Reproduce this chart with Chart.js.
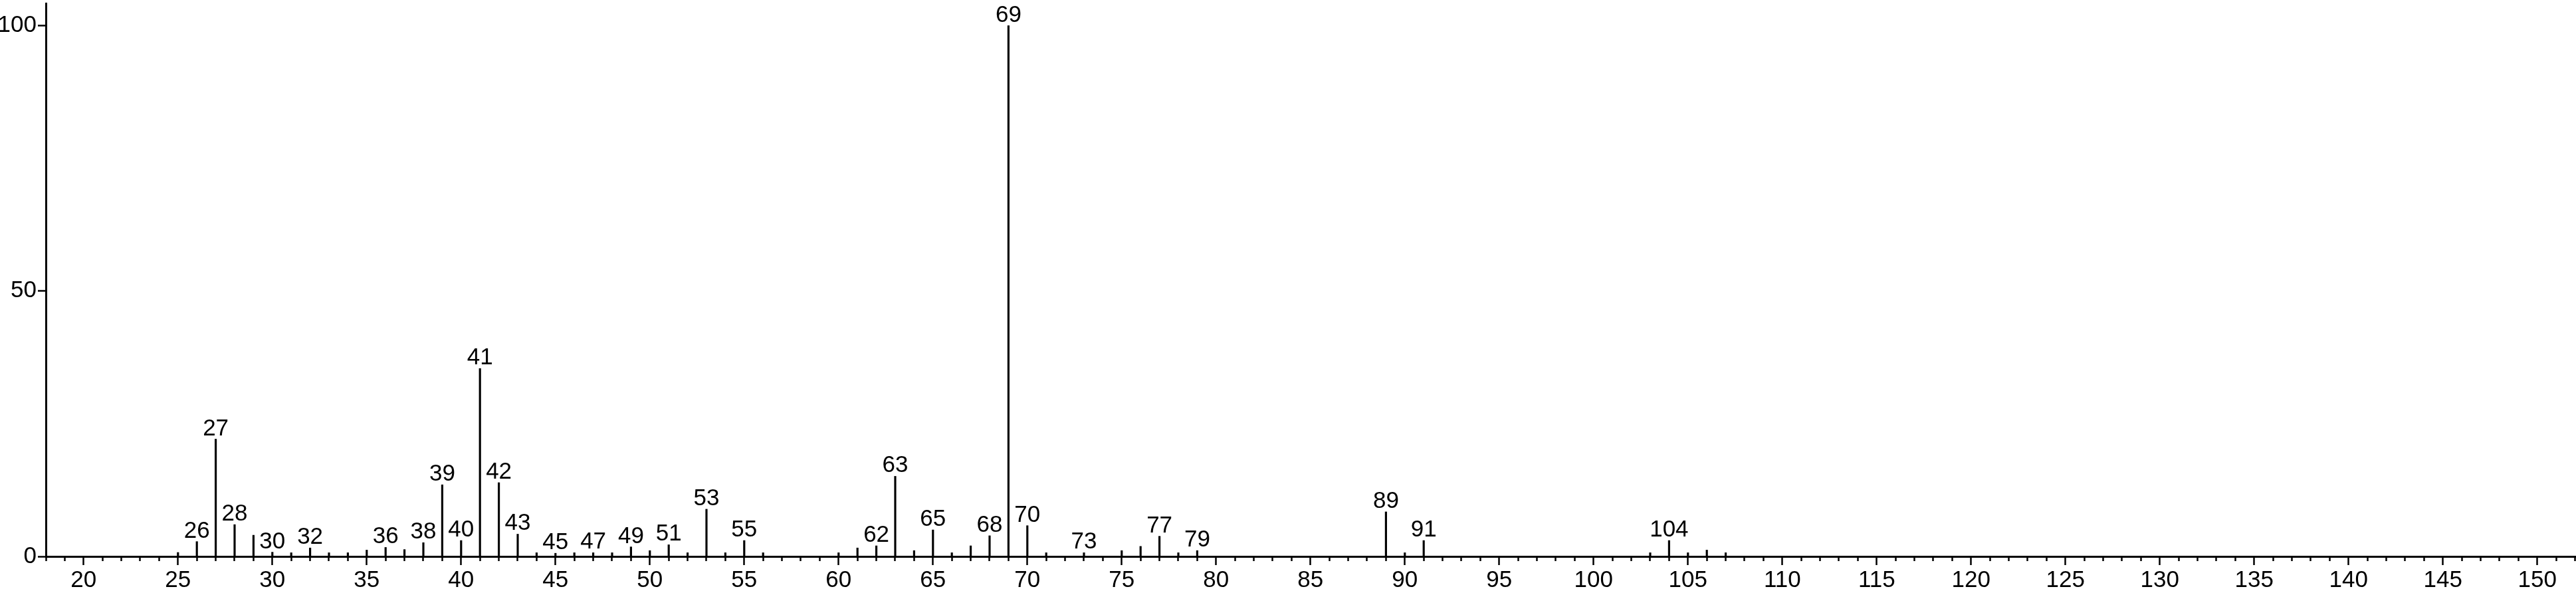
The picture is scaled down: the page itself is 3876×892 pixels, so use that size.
<!DOCTYPE html>
<html>
<head>
<meta charset="utf-8">
<script src="https://cdn.jsdelivr.net/npm/chart.js@4/dist/chart.umd.min.js"></script>
<style>
    html, body { margin: 0; padding: 0; background: #fff; }
    #wrap { width: 3876px; height: 892px; }
</style>
</head>
<body>
<div id="wrap"><canvas id="spectrum"></canvas></div>
<script>
// m/z and relative abundance
const mz = [25, 26, 27, 28, 29, 30, 31, 32, 33, 34, 35, 36, 37, 38, 39, 40, 41, 42, 43, 44,
    45, 46, 47, 48, 49, 50, 51, 52, 53, 54, 55, 56, 60, 61, 62, 63, 64, 65, 66, 67,
    68, 69, 70, 71, 73, 75, 76, 77, 78, 79, 89, 90, 91, 103, 104, 105, 106, 107];
const abundance = [0.75, 2.8, 22.1, 6.0, 4.0, 0.8, 0.7, 1.6, 0.7, 0.7, 1.2, 1.7, 1.3, 2.6, 13.5, 3.0, 35.4, 13.9, 4.2, 0.7,
    0.6, 0.7, 0.7, 0.7, 1.8, 1.1, 2.2, 0.7, 8.9, 0.7, 3.0, 0.7, 0.7, 1.6, 2.0, 15.1, 1.1, 5.0, 0.7, 2.0,
    3.9, 100, 5.8, 0.7, 0.7, 1.1, 1.9, 3.8, 0.7, 1.1, 8.4, 0.7, 3.0, 0.7, 3.0, 0.7, 1.2, 0.7];
const labeledPeaks = [26, 27, 28, 30, 32, 36, 38, 39, 40, 41, 42, 43, 45, 47, 49, 51, 53, 55,
    62, 63, 65, 68, 69, 70, 73, 77, 79, 89, 91, 104];
const xTickLabels = [20, 25, 30, 35, 40, 45, 50, 55, 60, 65, 70, 75, 80, 85, 90, 95, 100,
    105, 110, 115, 120, 125, 130, 135, 140, 145, 150];
const yTickLabels = [0, 50, 100];

const FONT = "'Liberation Sans', Arial, Helvetica, sans-serif";
const FONT_SIZE = 35;

const isMajor = (v) => xTickLabels.includes(v);

const noPadding = (scale) => {
    scale.paddingTop = 0;
    scale.paddingBottom = 0;
    scale.paddingLeft = 0;
    scale.paddingRight = 0;
};

const peakLabels = {
    id: 'peakLabels',
    afterDatasetsDraw(chart) {
        const { ctx, scales: { x, y } } = chart;
        ctx.save();
        ctx.fillStyle = '#000';
        ctx.font = `${FONT_SIZE}px ${FONT}`;
        ctx.textAlign = 'center';
        ctx.textBaseline = 'alphabetic';
        labeledPeaks.forEach(m => {
            const i = mz.indexOf(m);
            if (i < 0) return;
            ctx.fillText(String(m), x.getPixelForValue(m), y.getPixelForValue(abundance[i]) - 6);
        });
        ctx.restore();
    }
};

new Chart(document.getElementById('spectrum'), {
    type: 'bar',
    data: {
        datasets: [{
            data: mz.map((m, i) => ({ x: m, y: abundance[i] })),
            backgroundColor: '#000',
            borderWidth: 0,
            barThickness: 2.5,
            grouped: false
        }]
    },
    options: {
        responsive: true,
        maintainAspectRatio: false,
        animation: false,
        layout: { padding: { top: 5, right: 0, left: 0, bottom: 0 } },
        plugins: { legend: { display: false }, tooltip: { enabled: false } },
        scales: {
            x: {
                type: 'linear',
                offset: false,
                min: 18,
                max: 152.05,
                afterBuildTicks: (scale) => {
                    const ticks = [];
                    for (let v = 18; v <= 152; v++) ticks.push({ value: v });
                    scale.ticks = ticks;
                },
                afterFit: (scale) => { scale.height = 55; noPadding(scale); },
                border: { color: '#000', width: 3 },
                grid: {
                    offset: false,
                    drawOnChartArea: false,
                    tickLength: 13,
                    tickWidth: 2.5,
                    tickColor: '#000',
                    tickBorderDash: (ctx) => (ctx.tick && !isMajor(ctx.tick.value)) ? [5, 50] : []
                },
                ticks: {
                    autoSkip: false,
                    maxRotation: 0,
                    padding: 2,
                    color: '#000',
                    font: { size: FONT_SIZE, family: FONT },
                    callback: (value) => isMajor(value) ? String(value) : ''
                }
            },
            y: {
                min: 0,
                max: 104.2,
                afterBuildTicks: (scale) => {
                    scale.ticks = yTickLabels.map(v => ({ value: v }));
                },
                afterFit: (scale) => { scale.width = 69; noPadding(scale); },
                border: { color: '#000', width: 3 },
                grid: {
                    drawOnChartArea: false,
                    tickLength: 12,
                    tickWidth: 2.5,
                    tickColor: '#000'
                },
                ticks: {
                    padding: 2,
                    color: '#000',
                    font: { size: FONT_SIZE, family: FONT }
                }
            }
        }
    },
    plugins: [peakLabels]
});
</script>
</body>
</html>
